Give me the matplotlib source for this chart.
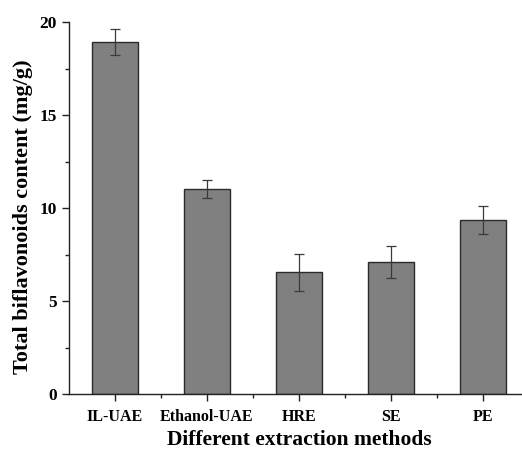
import numpy as np
import matplotlib.pyplot as plt
from matplotlib.ticker import MultipleLocator

# Data
methods = ['IL-UAE', 'Ethanol-UAE', 'HRE', 'SE', 'PE']
content = [18.92, 11.04, 6.56, 7.10, 9.35]
errors = [0.70, 0.50, 1.00, 0.87, 0.75]

plt.rcParams['font.family'] = ['Liberation Serif', 'DejaVu Serif']
plt.rcParams['font.weight'] = 'bold'

fig = plt.figure(figsize=(5.22, 4.53), dpi=100)
ax = fig.add_axes([0.132, 0.130, 0.881, 0.821])

x = np.arange(len(methods))
ax.bar(x, content, width=0.5, color='#808080', edgecolor='#2b2b2b', linewidth=1.0,
       yerr=errors, capsize=3.5,
       error_kw=dict(ecolor='#3a3a3a', elinewidth=0.9, capthick=0.9))

ax.set_xlim(-0.5, 4.5)
ax.set_ylim(0, 20)
ax.set_xticks(x)
ax.set_xticklabels(methods, fontsize=11.5, fontweight='bold')
ax.set_xticks(x + 0.5, minor=True)
ax.yaxis.set_major_locator(MultipleLocator(5))
ax.yaxis.set_minor_locator(MultipleLocator(2.5))
ax.tick_params(axis='y', labelsize=12.5)
ax.tick_params(which='major', length=5, width=1.0, color='#222222')
ax.tick_params(which='minor', length=3, width=1.0, color='#222222')
ax.tick_params(axis='x', pad=6)

for side in ['top', 'right']:
    ax.spines[side].set_visible(False)
for side in ['left', 'bottom']:
    ax.spines[side].set_linewidth(1.0)
    ax.spines[side].set_color('#222222')

ax.set_ylabel('Total biflavonoids content (mg/g)', fontsize=16, fontweight='bold')
ax.yaxis.set_label_coords(-0.078, 0.476)
ax.set_xlabel('Different extraction methods', fontsize=15.5, fontweight='bold', labelpad=3)

fig.savefig('out.png', dpi=100)
